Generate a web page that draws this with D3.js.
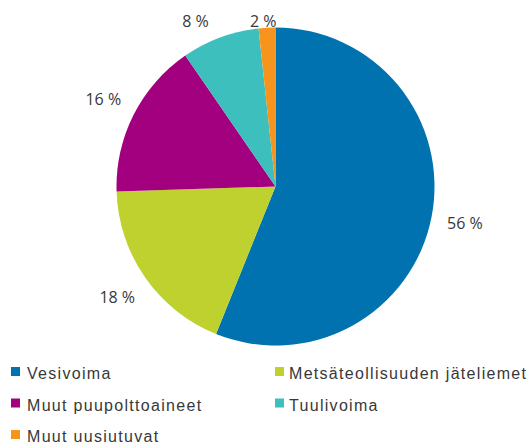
<!DOCTYPE html>
<html>
<head>
<meta charset="utf-8">
<script src="https://cdn.jsdelivr.net/npm/d3@7"></script>
<style>
  body { margin: 0; background: #fff; }
  svg { display: block; }
</style>
</head>
<body>
<div id="chart"></div>
<script>
// Energy sources share, %
const categories = ["Vesivoima", "Metsäteollisuuden jäteliemet", "Muut puupolttoaineet", "Tuulivoima", "Muut uusiutuvat"];
const values = [56.1, 18.4, 15.9, 7.9, 1.7];
const colors = ["#0072b0", "#bfd12e", "#a3007f", "#3dbfbd", "#f7941d"];

const width = 531, height = 448;
const cx = 275.5, cy = 186.5, radius = 159;

const svg = d3.select("#chart").append("svg")
  .attr("width", width)
  .attr("height", height);

const data = categories.map((c, i) => ({ name: c, value: values[i], color: colors[i] }));

const pie = d3.pie().sort(null).value(d => d.value);
const arc = d3.arc().innerRadius(0).outerRadius(radius);
const arcs = pie(data);

const g = svg.append("g").attr("transform", `translate(${cx},${cy})`);

g.selectAll("path.slice")
  .data(arcs)
  .join("path")
  .attr("class", "slice")
  .attr("d", arc)
  .attr("fill", d => d.data.color);

// Labels outside the pie; ones that would go off the top get pinned near the top edge
const labelR = 193, pinnedR = 230, topLimit = 21 - cy;
g.selectAll("text.lbl")
  .data(arcs)
  .join("text")
  .attr("class", "lbl")
  .each(function(d) {
    const a = (d.startAngle + d.endAngle) / 2;
    let x = Math.sin(a) * labelR;
    let y = -Math.cos(a) * labelR;
    if (y < topLimit) {
      y = topLimit;
      x = Math.sin(a) * pinnedR;
    }
    d3.select(this).attr("x", x).attr("y", y);
  })
  .attr("text-anchor", "middle")
  .attr("dominant-baseline", "central")
  .attr("font-family", "'Open Sans', 'Noto Sans', sans-serif")
  .attr("font-size", 16)
  .attr("fill", "#383838")
  .text(d => Math.round(d.data.value) + " %");

// Legend: two columns
const legendCols = [11, 275];
const legendRows = [379, 410.5, 442];
const legend = svg.append("g");
const items = legend.selectAll("g.item")
  .data(data)
  .join("g")
  .attr("class", "item")
  .attr("transform", (d, i) => `translate(${legendCols[i % 2]},${legendRows[Math.floor(i / 2)]})`);

items.append("rect")
  .attr("x", 0)
  .attr("y", -12)
  .attr("width", 9)
  .attr("height", 9)
  .attr("fill", d => d.color);

items.append("text")
  .attr("x", (d, i) => i % 2 === 0 ? 16 : 14)
  .attr("y", 0)
  .attr("font-family", "'Liberation Sans', Arial, sans-serif")
  .attr("font-size", 16)
  .attr("letter-spacing", 1.3)
  .attr("fill", "#383838")
  .text(d => d.name);
</script>
</body>
</html>
